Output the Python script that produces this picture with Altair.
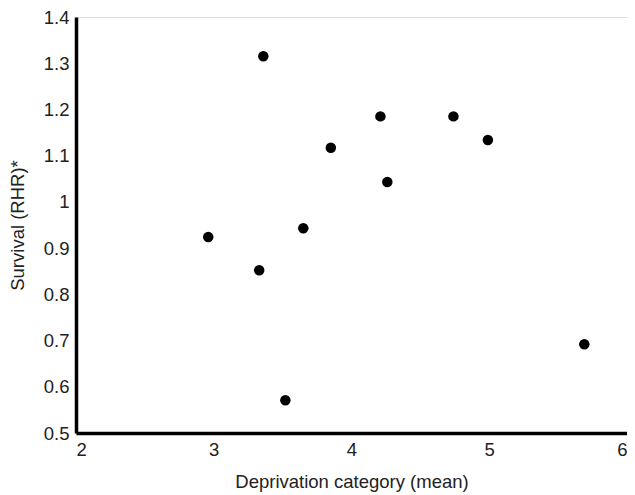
import altair as alt
import pandas as pd

deprivation = [3.36, 4.21, 4.74, 4.99, 3.85, 4.26, 3.65, 2.96, 3.33, 3.52, 5.69]
survival = [1.315, 1.185, 1.185, 1.134, 1.117, 1.043, 0.943, 0.924, 0.852, 0.571, 0.692]

x_ticks = [2, 3, 4, 5, 6]
y_ticks = [0.5, 0.6, 0.7, 0.8, 0.9, 1.0, 1.1, 1.2, 1.3, 1.4]

df = pd.DataFrame({"x": deprivation, "y": survival})

FONT = "Liberation Sans"
FS = 18.5

chart = (
    alt.Chart(df)
    .mark_circle(size=110, color="black", opacity=1)
    .encode(
        x=alt.X(
            "x:Q",
            scale=alt.Scale(domain=[2, 6], nice=False, zero=False),
            axis=alt.Axis(
                title="Deprivation category (mean)",
                values=x_ticks,
                format="d",
                ticks=False,
                grid=False,
                domainColor="black",
                domainWidth=3.5,
                labelPadding=7,
                labelFontSize=FS,
                labelFont=FONT,
                labelColor="#222",
                labelFlush=True,
                titleFont=FONT,
                titleFontSize=FS,
                titleFontWeight="normal",
                titleColor="#222",
                titlePadding=14,
            ),
        ),
        y=alt.Y(
            "y:Q",
            scale=alt.Scale(domain=[0.5, 1.4], nice=False, zero=False),
            axis=alt.Axis(
                title="Survival (RHR)*",
                values=y_ticks,
                format="~g",
                ticks=False,
                grid=False,
                domainColor="black",
                domainWidth=3.5,
                labelPadding=7,
                labelFontSize=FS,
                labelFont=FONT,
                labelColor="#222",
                labelFlush=False,
                titleFont=FONT,
                titleFontSize=FS,
                titleFontWeight="normal",
                titleColor="#222",
                titlePadding=16,
            ),
        ),
    )
    .properties(
        width=551,
        height=416,
        autosize=alt.AutoSizeParams(type="none"),
        padding={"left": 68, "top": 9, "right": 0, "bottom": 70},
    )
    .configure_view(stroke=None)
    .configure(background="white")
)

chart.save("out.html", embed_options={"renderer": "svg", "actions": False})
